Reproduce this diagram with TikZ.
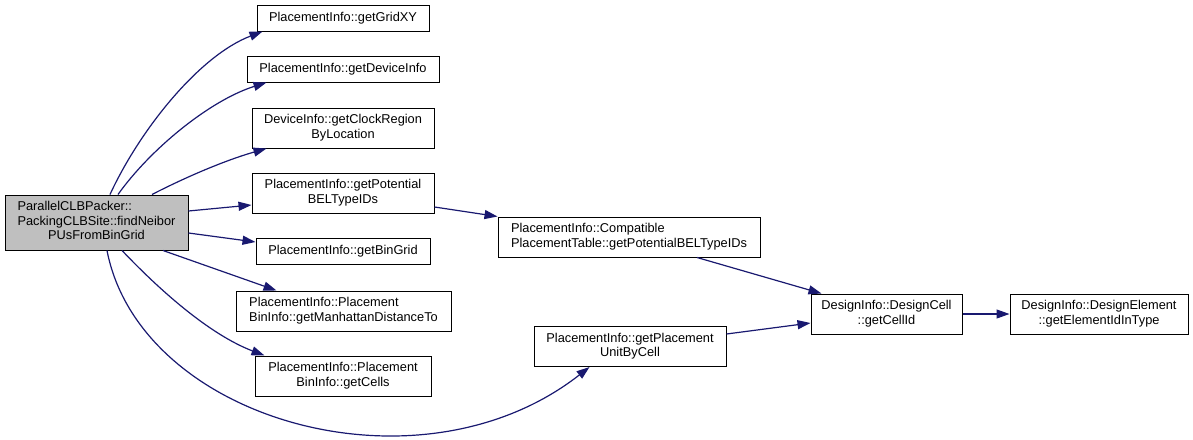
\documentclass[tikz,border=0pt]{standalone}
\usepackage{fontspec}
\setmainfont{Liberation Sans}
\usepackage{tikz}
\usetikzlibrary{arrows.meta}
\definecolor{edgeblue}{HTML}{191970}
\definecolor{rootgray}{HTML}{BFBFBF}
\newcommand{\fnlabel}[1]{\begin{tabular}{@{}l@{}}#1\end{tabular}}
\newcommand{\lastrow}[1]{\multicolumn{1}{@{}c@{}}{#1}}

\begin{document}
\begin{tikzpicture}[x=1pt, y=-1pt, font=\fontsize{12.8}{14.5}\selectfont]
	\tikzset{
		fn/.style={draw=black, line width=1pt, fill=white, inner sep=0pt, minimum height=40},
		fnone/.style={fn, minimum height=26},
		fnroot/.style={fn, fill=rootgray, minimum height=55},
		call/.style={draw=edgeblue, line width=1.2pt, -{Triangle[length=13pt, width=9pt]}},
	}
	\useasboundingbox (0,0) rectangle (1193,439);

	\node[fnroot, minimum width=183] (packer) at (96.5,222.5) {\fnlabel{ParallelCLBPacker::\\PackingCLBSite::findNeibor\\\lastrow{PUsFromBinGrid}}};

	\node[fnone, minimum width=172] (gridxy) at (343,18) {PlacementInfo::getGridXY};
	\node[fnone, minimum width=192] (devinfo) at (343,69) {PlacementInfo::getDeviceInfo};
	\node[fn, minimum width=182] (clockregion) at (343,128) {\fnlabel{DeviceInfo::getClockRegion\\\lastrow{ByLocation}}};
	\node[fn, minimum width=182] (potential) at (343,193) {\fnlabel{PlacementInfo::getPotential\\\lastrow{BELTypeIDs}}};
	\node[fnone, minimum width=174] (bingrid) at (343,251.5) {PlacementInfo::getBinGrid};
	\node[fn, minimum width=215] (manhattan) at (343.5,311) {\fnlabel{PlacementInfo::Placement\\\lastrow{BinInfo::getManhattanDistanceTo}}};
	\node[fn, minimum width=176] (bincells) at (343,376) {\fnlabel{PlacementInfo::Placement\\\lastrow{BinInfo::getCells}}};

	\node[fn, minimum width=262] (compatible) at (629,237) {\fnlabel{PlacementInfo::Compatible\\\lastrow{PlacementTable::getPotentialBELTypeIDs}}};
	\node[fn, minimum width=192] (unitbycell) at (630,346.5) {\fnlabel{PlacementInfo::getPlacement\\\lastrow{UnitByCell}}};

	\node[fn, minimum width=151] (cellid) at (886.5,314) {\fnlabel{DesignInfo::DesignCell\\\lastrow{::getCellId}}};
	\node[fn, minimum width=178] (elemid) at (1099,314) {\fnlabel{DesignInfo::DesignElement\\\lastrow{::getElementIdInType}}};

	\draw[call] ([xshift=13.5]packer.north) .. controls +(30,-65) and +(-63,24) .. ([xshift=6]gridxy.south west);
	\draw[call] ([xshift=21.5]packer.north) .. controls +(32,-45) and +(-57,18) .. ([xshift=20]devinfo.south west);
	\draw[call] ([xshift=55.5]packer.north) .. controls +(33,-17) and +(-42,12) .. ([xshift=15]clockregion.south west);
	\draw[call] ([yshift=11.5]packer.east) -- ([yshift=-12]potential.west);
	\draw[call] ([yshift=-10.5]packer.east) -- ([yshift=9.5]bingrid.west);
	\draw[call] ([xshift=66.5]packer.south) -- ([xshift=41]manhattan.north west);
	\draw[call] ([xshift=25.5]packer.south) .. controls +(38,40) and +(-55,-21) .. ([xshift=10]bincells.north west);
	\draw[call] ([xshift=10.5]packer.south) .. controls +(33,170) and +(-170,133) .. ([xshift=56]unitbycell.south west);

	\draw[call] ([yshift=-14]potential.east) -- (compatible.north west);
	\draw[call] ([xshift=68]compatible.south) -- ([xshift=11]cellid.north west);
	\draw[call] ([yshift=12.5]unitbycell.east) -- ([yshift=-9]cellid.west);
	\draw[call] (cellid) -- (elemid);
\end{tikzpicture}
\end{document}
